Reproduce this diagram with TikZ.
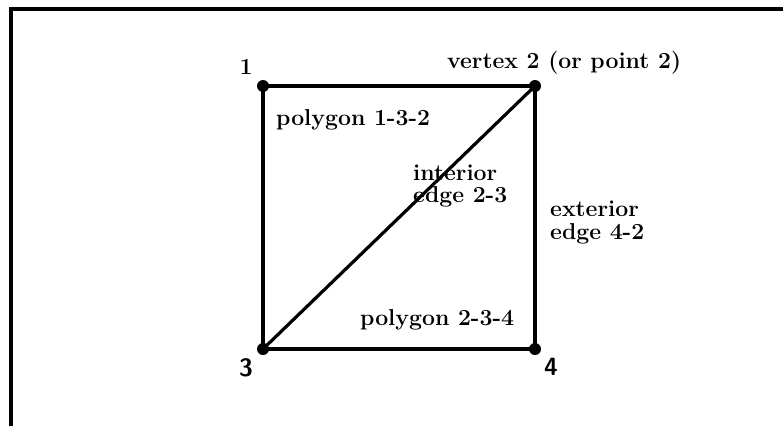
\documentclass[tikz,border=0pt]{standalone}
\begin{document}
\begin{tikzpicture}[x=1pt,y=-1pt,
  edge/.style={line width=3.2pt},
  vdot/.style={circle,fill=black,inner sep=0pt,minimum size=12pt},
  lbl/.style={inner sep=0pt,font=\fontsize{23}{23}\selectfont\bfseries},
  slbl/.style={inner sep=0pt,font=\fontsize{25}{25}\selectfont\sffamily\bfseries}]
\useasboundingbox (0,0) rectangle (783,426);
% frame
\coordinate (fa) at (11,426);
\coordinate (fb) at (11,9);
\coordinate (fc) at (783,9);
\draw[line width=3.2pt] (fa) -- (fb) -- (fc);
% vertices
\node[vdot] (v1) at (263,86) {};
\node[vdot] (v2) at (535,86) {};
\node[vdot] (v3) at (263,349) {};
\node[vdot] (v4) at (535,349) {};
% labels
\node[lbl,anchor=base] (l1) at (246,74) {1};
\node[lbl,anchor=base west] (l2) at (447,68) {vertex 2 (or point 2)};
\node[slbl] (l3) at (246,368) {3};
\node[slbl] (l4) at (551,367) {4};
\node[lbl,anchor=base west] (p132) at (276,125) {polygon 1-3-2};
\node[lbl,anchor=base west] (p234) at (360,325) {polygon 2-3-4};
\node[lbl,anchor=base west] (int1) at (413,180) {interior};
\node[lbl,anchor=base west] (int2) at (413,202) {edge 2-3};
\node[lbl,anchor=base west] (ext1) at (550,216) {exterior};
\node[lbl,anchor=base west] (ext2) at (550,239) {edge 4-2};
% edges
\draw[edge] (v1.center) -- (v2.center);
\draw[edge] (v1.center) -- (v3.center);
\draw[edge] (v3.center) -- (v4.center);
\draw[edge] (v2.center) -- (v4.center);
\draw[edge] (v3.center) -- (v2.center);
\end{tikzpicture}
\end{document}
